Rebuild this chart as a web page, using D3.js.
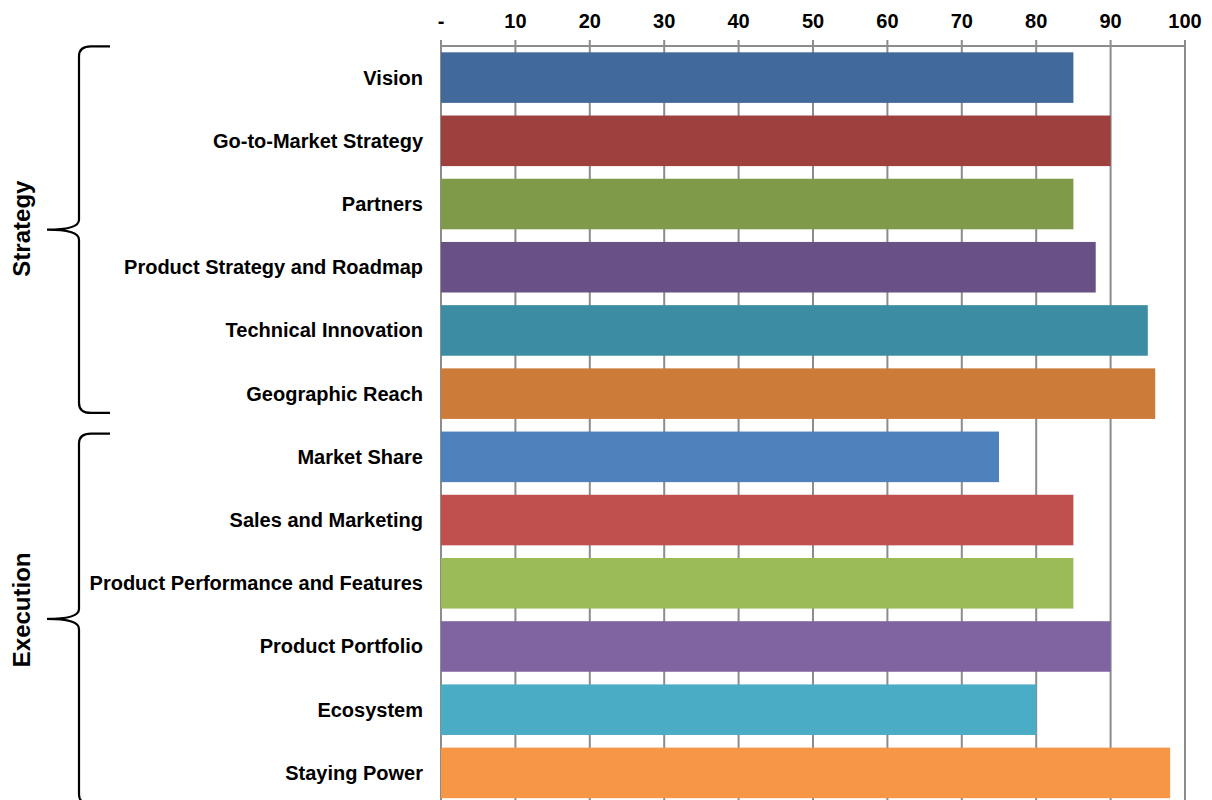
<!DOCTYPE html>
<html><head><meta charset="utf-8">
<script src="https://cdn.jsdelivr.net/npm/d3@7"></script>
<style>body{margin:0;background:#fff;}svg{display:block;font-family:"Liberation Sans",Arial,sans-serif;}</style>
</head><body><svg id="c" width="1212" height="800"></svg>
<script>
const categories = ["Vision","Go-to-Market Strategy","Partners","Product Strategy and Roadmap","Technical Innovation","Geographic Reach","Market Share","Sales and Marketing","Product Performance and Features","Product Portfolio","Ecosystem","Staying Power"];
const values = [85,90,85,88,95,96,75,85,85,90,80,98];
const colors = ["#416A9B","#9E413E","#7F9A48","#695185","#3C8DA3","#CC7B38","#4F81BD","#C0504D","#9BBB59","#8064A2","#4BACC6","#F79646"];
const tickValues = [0,10,20,30,40,50,60,70,80,90,100];
const tickLabels = ["-","10","20","30","40","50","60","70","80","90","100"];
const groups = [{name:"Strategy",first:0,last:5},{name:"Execution",first:6,last:11}];

const svg = d3.select("#c");
const x = d3.scaleLinear().domain([0,100]).range([441,1185]);
const y = d3.scaleBand().domain(categories).range([46,804.5]).paddingInner(0.2).paddingOuter(0.1);
const axisY = 46;

// gridlines
svg.append("g").selectAll("line").data(tickValues).join("line")
  .attr("x1",d=>x(d)).attr("x2",d=>x(d)).attr("y1",40).attr("y2",800)
  .attr("stroke","#8c8c8c").attr("stroke-width",2);
// axis line
svg.append("line").attr("x1",x(0)).attr("x2",x(100)).attr("y1",axisY).attr("y2",axisY)
  .attr("stroke","#8c8c8c").attr("stroke-width",2);
// tick labels
svg.append("g").selectAll("text").data(tickValues).join("text")
  .attr("x",d=>x(d)).attr("y",28).attr("text-anchor","middle")
  .attr("font-size",20).attr("font-weight","bold").attr("fill","#000")
  .text((d,i)=>tickLabels[i]);

// bars
svg.append("g").selectAll("rect").data(categories).join("rect")
  .attr("x",x(0)).attr("y",d=>y(d)).attr("height",y.bandwidth())
  .attr("width",(d,i)=>x(values[i])-x(0)).attr("fill",(d,i)=>colors[i]);

// category labels
svg.append("g").selectAll("text").data(categories).join("text")
  .attr("x",423).attr("y",d=>y(d)+y.bandwidth()/2).attr("dy","0.35em")
  .attr("text-anchor","end").attr("font-size",20).attr("font-weight","bold").attr("fill","#000")
  .text(d=>d);

// braces
const xt=110, xv=79, xm=47, r=10;
function brace(yt,yb){
  const ym=(yt+yb)/2;
  return `M${xt},${yt} L${xv+12},${yt} Q${xv},${yt} ${xv},${yt+r} L${xv},${ym-r} Q${xv},${ym} ${xm},${ym} Q${xv},${ym} ${xv},${ym+r} L${xv},${yb-r} Q${xv},${yb} ${xv+12},${yb} L${xt},${yb}`;
}
groups.forEach((g,i)=>{
  const yt = i===0 ? y(categories[g.first])-6 : y(categories[g.first])+2;
  const yb = i===0 ? y(categories[g.last])+y.bandwidth()-6 : y(categories[g.last])+y.bandwidth()+6;
  svg.append("path").attr("d",brace(yt,yb)).attr("fill","none").attr("stroke","#000").attr("stroke-width",2.2);
  const ym=(yt+yb)/2 + (i===0 ? -1 : -9);
  svg.append("text").attr("transform",`translate(30,${ym}) rotate(-90)`)
    .attr("text-anchor","middle").attr("font-size",24).attr("font-weight","bold").attr("fill","#000")
    .text(g.name);
});
</script></body></html>
